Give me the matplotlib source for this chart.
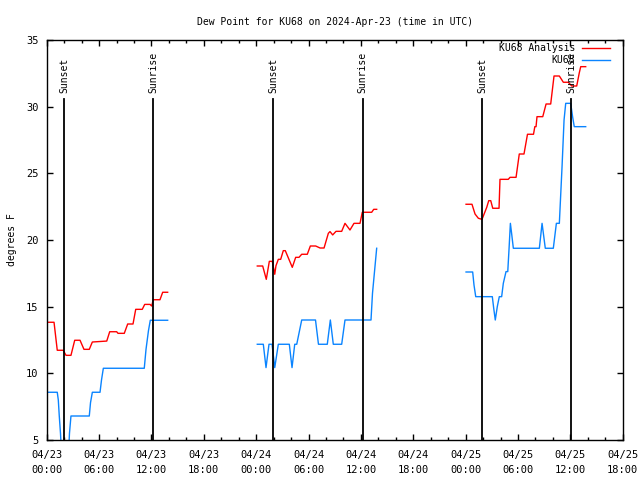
import numpy as np
import matplotlib
matplotlib.use('Agg')
import matplotlib.pyplot as plt
from matplotlib.ticker import MultipleLocator

nan = np.nan

# time in hours since 2024-04-23 00:00 UTC
analysis_hours = [0.15, 0.84, 1.21, 1.90, 2.21, 2.78, 3.21, 3.82, 4.27, 4.88, 5.23, 6.88, 7.22, 8.02,
                  8.17, 8.89, 9.28, 9.89, 10.20, 10.95, 11.23, 11.84, 12.03, 12.21, 12.98, 13.29, 13.86,
                  nan,
                  24.13, 24.75, 25.16, 25.51, 25.85, 26.13, 26.27, 26.54, 26.81, 27.11, 27.34, 28.14,
                  28.53, 28.91, 29.22, 29.86, 30.21, 30.82, 31.32, 31.78, 32.27, 32.46, 32.77, 33.15,
                  33.80, 34.18, 34.75, 35.21, 35.90, 36.16, 37.24, 37.47, 37.81,
                  nan,
                  48.05, 48.73, 49.08, 49.46, 49.88, 50.42, 50.65, 50.88, 51.11, 51.83, 51.94, 52.89,
                  53.09, 53.78, 54.15, 54.69, 55.09, 55.78, 55.93, 56.07, 56.18, 56.84, 57.22, 57.75,
                  58.13, 58.74, 59.20, 59.77, 60.16, 60.73, 61.03, 61.19, 61.76]
analysis_dewpt = [13.83, 13.83, 11.73, 11.73, 11.35, 11.35, 12.48, 12.48, 11.8, 11.8, 12.35, 12.42, 13.12, 13.12,
                  13.0, 13.0, 13.7, 13.7, 14.8, 14.8, 15.17, 15.17, 15.05, 15.52, 15.52, 16.08, 16.08,
                  nan,
                  18.05, 18.05, 17.05, 18.4, 18.4, 17.43, 18.07, 18.55, 18.55, 19.2, 19.2, 17.95,
                  18.7, 18.7, 18.93, 18.93, 19.55, 19.55, 19.4, 19.4, 20.5, 20.63, 20.38, 20.65,
                  20.65, 21.25, 20.75, 21.25, 21.25, 22.08, 22.08, 22.3, 22.3,
                  nan,
                  22.68, 22.68, 21.95, 21.63, 21.55, 22.45, 22.95, 22.95, 22.38, 22.38, 24.55, 24.55,
                  24.7, 24.7, 26.45, 26.45, 27.93, 27.93, 28.5, 28.5, 29.25, 29.25, 30.2, 30.2,
                  32.3, 32.3, 31.83, 31.83, 31.55, 31.55, 32.55, 33.0, 33.0]

obs_hours = [0.15, 1.21, 1.33, 1.44, 1.58, 1.70, 2.50, 2.61, 2.78, 4.88, 5.02, 5.23, 6.11, 6.28, 6.49,
             11.18, 11.38, 11.66, 11.87, 13.86,
             nan,
             24.13, 24.82, 25.13, 25.47, 25.82, 26.13, 26.54, 27.80, 28.11, 28.42, 28.65, 29.22, 30.80,
             31.14, 32.15, 32.50, 32.84, 33.80, 34.18, 37.16, 37.33, 37.81,
             nan,
             48.05, 48.81, 48.96, 49.16, 51.06, 51.22, 51.40, 51.63, 51.86, 52.13, 52.32, 52.63, 52.83,
             52.98, 53.13, 53.27, 53.47, 56.45, 56.76, 57.13, 58.05, 58.40, 58.74, 59.05, 59.28, 59.47,
             60.04, 60.27, 60.45, 61.76]
obs_dewpt = [8.58, 8.58, 8.0, 6.8, 5.5, 4.0, 4.0, 5.5, 6.8, 6.8, 7.8, 8.58, 8.58, 9.5, 10.38,
             10.38, 11.8, 13.2, 13.98, 13.98,
             nan,
             12.18, 12.18, 10.43, 12.18, 12.18, 10.43, 12.18, 12.18, 10.43, 12.18, 12.18, 14.0, 14.0,
             12.18, 12.18, 14.0, 12.18, 12.18, 14.0, 14.0, 16.0, 19.38,
             nan,
             17.6, 17.6, 16.63, 15.75, 15.75, 14.88, 14.0, 15.0, 15.75, 15.75, 16.75, 17.63, 17.63,
             19.38, 21.25, 20.5, 19.38, 19.38, 21.25, 19.38, 19.38, 21.25, 21.25, 25.5, 29.0, 30.25,
             30.25, 29.2, 28.5, 28.5]

sun_hours = [1.98, 12.21, 25.97, 36.19, 49.88, 60.11]
sun_labels = ['Sunset', 'Sunrise', 'Sunset', 'Sunrise', 'Sunset', 'Sunrise']

xtick_hours = [0, 6, 12, 18, 24, 30, 36, 42, 48, 54, 60, 66]
xtick_labels = ['04/23\n00:00', '04/23\n06:00', '04/23\n12:00', '04/23\n18:00',
                '04/24\n00:00', '04/24\n06:00', '04/24\n12:00', '04/24\n18:00',
                '04/25\n00:00', '04/25\n06:00', '04/25\n12:00', '04/25\n18:00']
ytick_vals = [5, 10, 15, 20, 25, 30, 35]

plt.rcParams['font.family'] = ['DejaVu Sans Mono']
plt.rcParams['font.size'] = 7

fig = plt.figure(figsize=(6.4, 4.8), dpi=100)
ax = fig.add_axes([46.7 / 640, 40 / 480, 576 / 640, 400 / 480])

ax.plot(analysis_hours, analysis_dewpt, color='#ff0000', lw=1.0, label='KU68 Analysis')
ax.plot(obs_hours, obs_dewpt, color='#0a84ff', lw=1.0, label='KU68')

for t, lab in zip(sun_hours, sun_labels):
    ax.plot([t, t], [5, 30.6], color='black', lw=1.3)
    ax.text(t, 31.05, lab, rotation=90, ha='center', va='bottom', fontsize=7)

ax.set_xlim(0, 66)
ax.set_ylim(5, 35)
ax.set_xticks(xtick_hours)
ax.set_xticklabels(xtick_labels, linespacing=1.6)
ax.xaxis.set_minor_locator(MultipleLocator(2))
ax.set_yticks(ytick_vals)
ax.tick_params(which='both', direction='in', top=True, right=True, width=1.0)
ax.tick_params(which='major', length=4.5)
ax.tick_params(which='minor', length=2.5)
ax.tick_params(axis='x', which='major', pad=7.5, labelsize=7.5)
ax.tick_params(axis='y', which='major', pad=6, labelsize=7.5)
for s in ax.spines.values():
    s.set_linewidth(1.0)

ax.set_title('Dew Point for KU68 on 2024-Apr-23 (time in UTC)', fontsize=7, pad=11)
ax.set_ylabel('degrees F', fontsize=7)
ax.yaxis.set_label_coords(-0.052, 0.5)

ax.legend(loc='upper right', markerfirst=False, frameon=False, fontsize=7,
          handlelength=2.9, handletextpad=0.7, borderpad=0, borderaxespad=0,
          labelspacing=0.25, bbox_to_anchor=((610 - 46.7) / 576, (440 - 43) / 400))

fig.savefig('out.png', dpi=100)
